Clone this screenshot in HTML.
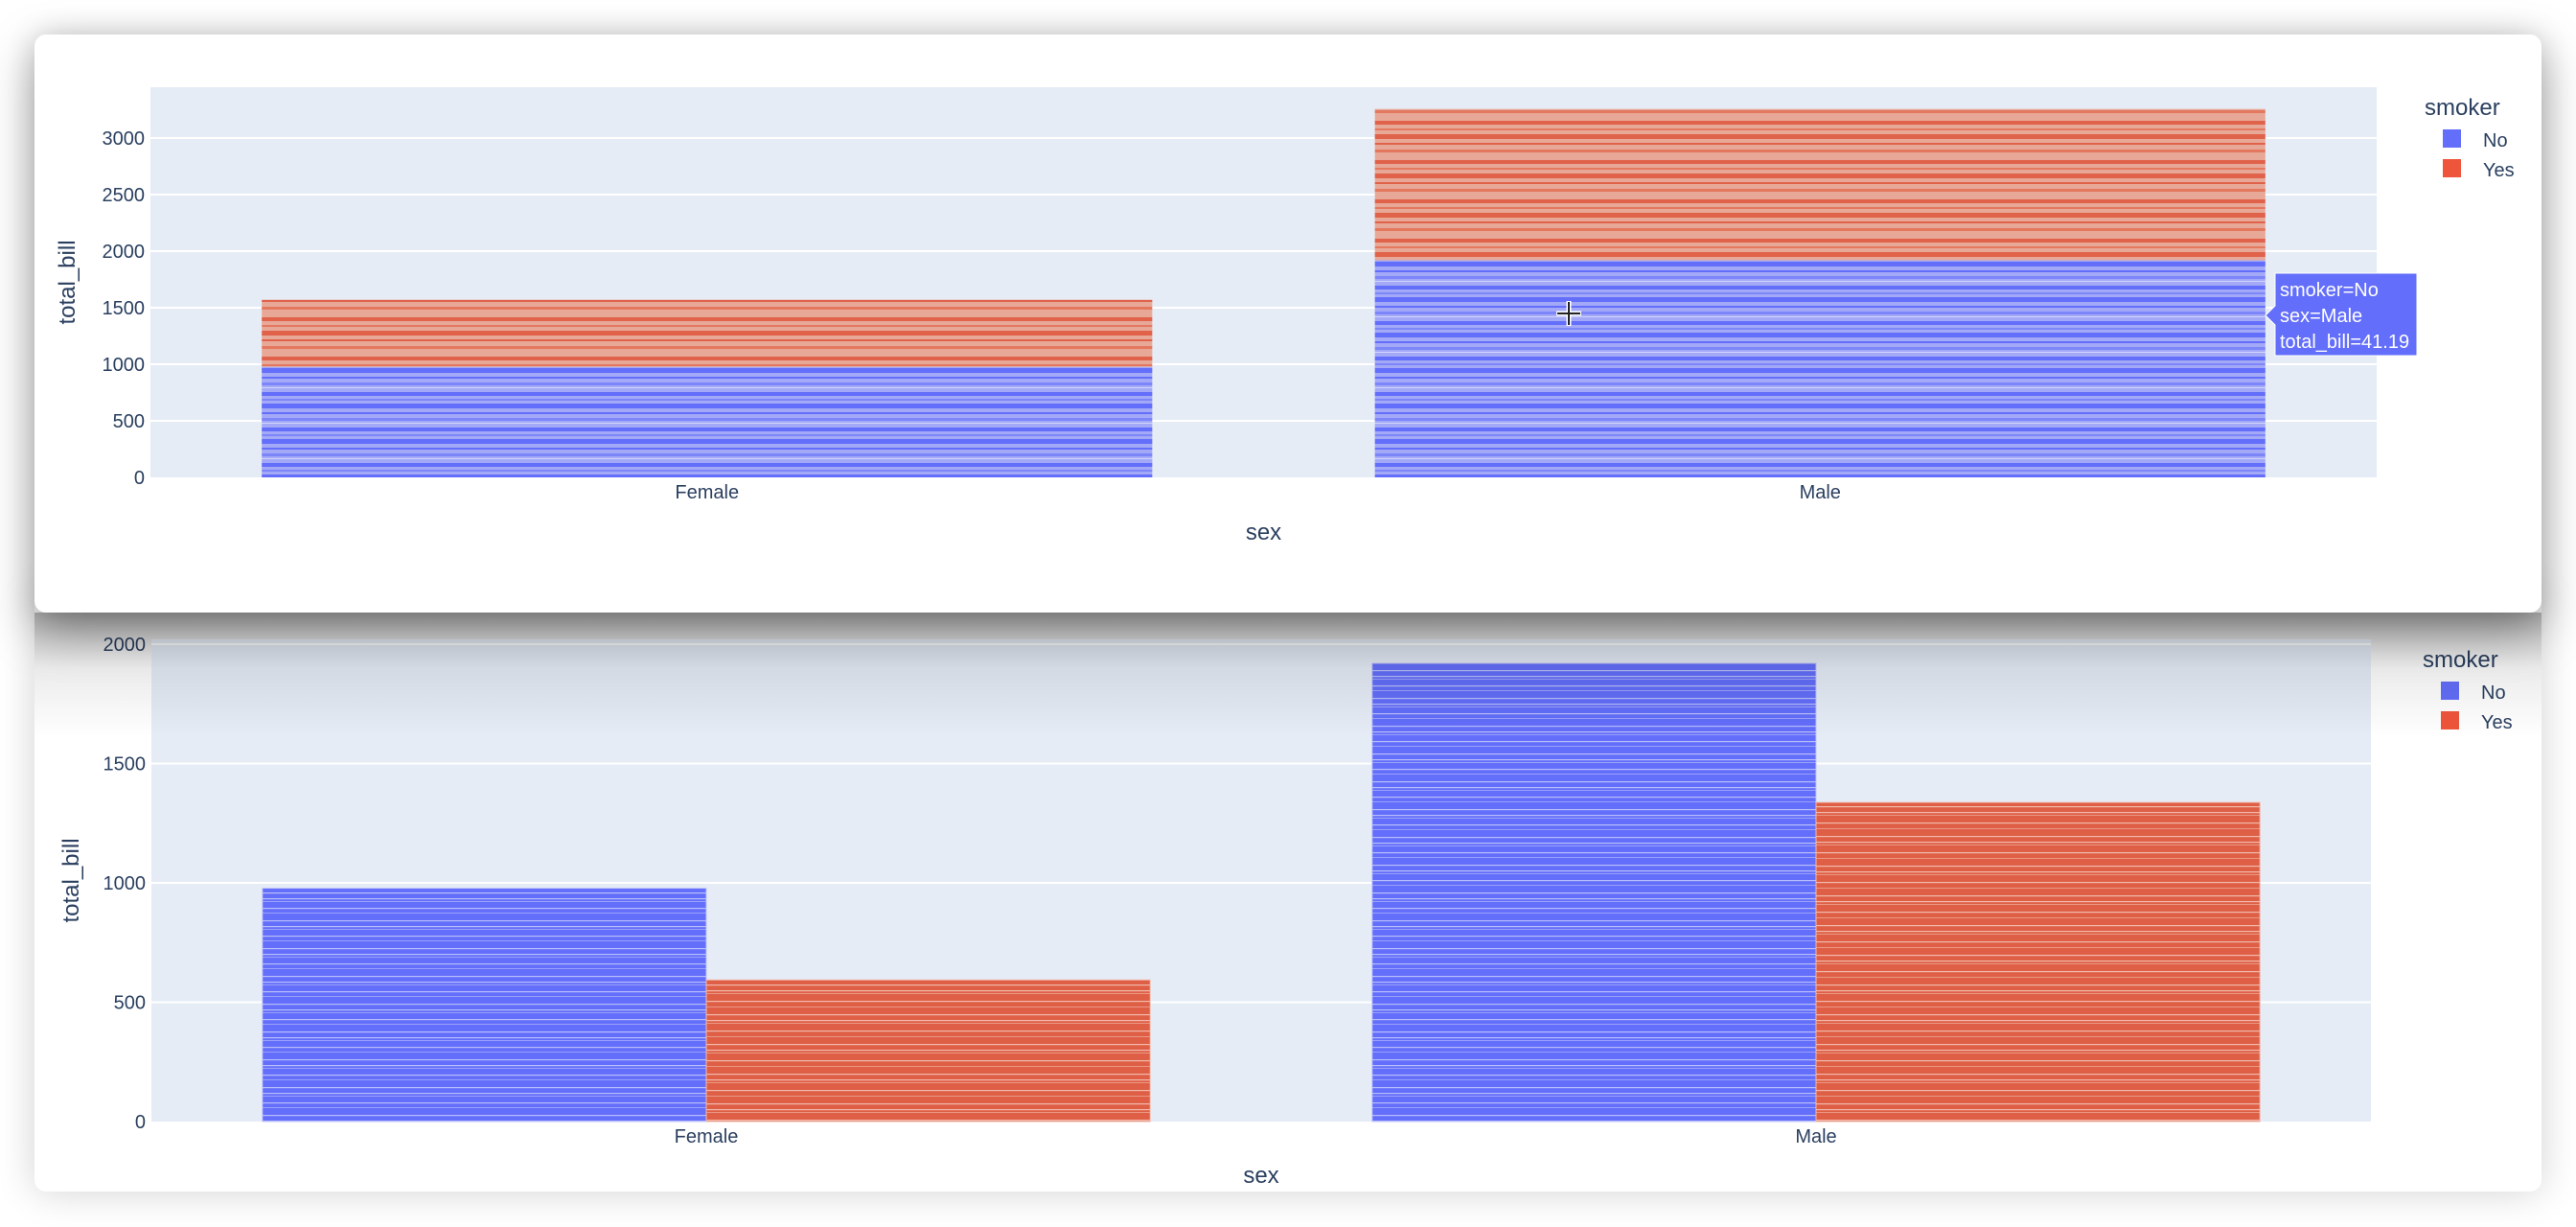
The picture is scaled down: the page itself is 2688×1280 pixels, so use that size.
<!DOCTYPE html>
<html><head><meta charset="utf-8">
<style>
html,body{margin:0;padding:0;width:2688px;height:1280px;overflow:hidden;background:#fff;font-family:"Liberation Sans",sans-serif;}
.card{position:absolute;left:36px;width:2616px;background:#fff;border-radius:12px;}
#top-card{top:36px;height:603px;z-index:2;box-shadow:0 18px 50px rgba(0,0,0,0.35),0 0 30px rgba(0,0,0,0.15);}
#bottom-card{top:620px;height:623px;z-index:1;box-shadow:0 0 40px rgba(0,0,0,0.18);}
svg{position:absolute;left:0;top:0;}
#shade{position:absolute;left:36px;top:639px;width:2616px;height:130px;z-index:3;pointer-events:none;background:linear-gradient(rgba(0,0,0,0.28),rgba(0,0,0,0.08) 45%,rgba(0,0,0,0));}
</style></head><body>
<div class="card" id="top-card"></div>
<div class="card" id="bottom-card"></div>
<div id="shade"></div>
<svg id="chart" width="2688" height="1280" style="z-index:2">
<defs>
<pattern id="stripeBlueLight" width="400" height="37" patternUnits="userSpaceOnUse">
<rect width="400" height="37" fill="#a3a9f7"/>
<rect y="2" width="400" height="4" fill="#636efa"/><rect y="9" width="400" height="2" fill="#7d86f9"/>
<rect y="14" width="400" height="5" fill="#636efa"/><rect y="23" width="400" height="2" fill="#636efa"/>
<rect y="29" width="400" height="3" fill="#7d86f9"/><rect y="34" width="400" height="1" fill="#ffffff" opacity=".5"/>
</pattern>
<pattern id="stripeRedLight" width="400" height="41" patternUnits="userSpaceOnUse">
<rect width="400" height="41" fill="#e8a898"/>
<rect y="3" width="400" height="4" fill="#e0624a"/><rect y="11" width="400" height="2" fill="#e3785f"/>
<rect y="17" width="400" height="5" fill="#e0624a"/><rect y="26" width="400" height="2" fill="#e0624a"/>
<rect y="33" width="400" height="3" fill="#e3785f"/>
</pattern>
<pattern id="stripeBlue" width="400" height="29" patternUnits="userSpaceOnUse">
<rect width="400" height="29" fill="#636efa"/>
<rect y="3" width="400" height="1.2" fill="#b8bdfb"/><rect y="9" width="400" height="1.2" fill="#b8bdfb"/>
<rect y="12" width="400" height="1" fill="#9aa1fa"/><rect y="19" width="400" height="1.2" fill="#b8bdfb"/>
<rect y="24" width="400" height="1" fill="#9aa1fa"/>
</pattern>
<pattern id="stripeRed" width="400" height="31" patternUnits="userSpaceOnUse">
<rect width="400" height="31" fill="#de5f46"/>
<rect y="4" width="400" height="1.2" fill="#f2b9ab"/><rect y="10" width="400" height="1.2" fill="#f2b9ab"/>
<rect y="13" width="400" height="1" fill="#eb9884"/><rect y="21" width="400" height="1.2" fill="#f2b9ab"/>
<rect y="27" width="400" height="1" fill="#eb9884"/>
</pattern>
</defs>
</svg>
<script>
// ---- data ----
const categories = ["Female", "Male"];
const smokers = ["No", "Yes"];
const billNo = [977.68, 1919.75];
const billYes = [593.27, 1337.07];
const topTicks = [0, 500, 1000, 1500, 2000, 2500, 3000];
const bottomTicks = [0, 500, 1000, 1500, 2000];

const NS = "http://www.w3.org/2000/svg";
const svg = document.getElementById("chart");
function mk(tag, attrs, parent, text) {
  const e = document.createElementNS(NS, tag);
  for (const k in attrs) e.setAttribute(k, attrs[k]);
  if (text !== undefined) e.textContent = text;
  (parent || svg).appendChild(e);
  return e;
}
const txtColor = "#2a3f5f";

function drawChart(cfg) {
  const g = mk("g", {});
  
  
  const L = cfg.left, R = cfg.right, T = cfg.top, B = cfg.bottom;
  const y = v => B - (v / cfg.ymax) * (B - T);
  const band = (R - L) / categories.length;
  const x = i => L + band * i + band / 2;
  const bg = mk("rect", {x: L, y: T, width: R - L, height: B - T, fill: "#e5ecf6"}, g);
  
  
  cfg.ticks.forEach(t => {
    if (t > 0) {
      const gl = mk("line", {x1: L, x2: R, y1: y(t), y2: y(t), stroke: "#fff", "stroke-width": 2}, g);
      
      
    }
    const tl = mk("text", {x: L - 6, y: y(t) + 7, "text-anchor": "end", "font-size": 20, fill: txtColor}, g, t);
    
    
  });
  const bw = band * 0.8;
  categories.forEach((c, i) => {
    const cx = x(i);
    if (cfg.mode === "stack") {
      const b1 = mk("rect", {x: cx - bw / 2, y: y(billNo[i]), width: bw, height: y(0) - y(billNo[i]), fill: "url(#stripeBlueLight)"}, g);
      
      
      const tot = billNo[i] + billYes[i];
      const b2 = mk("rect", {x: cx - bw / 2, y: y(tot), width: bw, height: y(billNo[i]) - y(tot), fill: "url(#stripeRedLight)"}, g);
      
      
    } else {
      const b1 = mk("rect", {x: cx - bw / 2, y: y(billNo[i]), width: bw / 2, height: y(0) - y(billNo[i]), fill: "url(#stripeBlue)", stroke: "#c2c6fb", "stroke-width": 1}, g);
      
      
      const b2 = mk("rect", {x: cx, y: y(billYes[i]), width: bw / 2, height: y(0) - y(billYes[i]), fill: "url(#stripeRed)", stroke: "#f2b9ab", "stroke-width": 1}, g);
      
      
    }
    const cl = mk("text", {x: cx, y: B + 22, "text-anchor": "middle", "font-size": 20, fill: txtColor}, g, c);
    
    
  });
  const xt = mk("text", {x: (L + R) / 2, y: cfg.xTitleY, "text-anchor": "middle", "font-size": 24, fill: txtColor}, g, "sex");
  
  
  const ty = (T + B) / 2;
  const yt = mk("text", {x: cfg.yTitleX, y: ty, "text-anchor": "middle", "font-size": 24, fill: txtColor, transform: "rotate(-90 " + cfg.yTitleX + " " + ty + ")"}, g, "total_bill");
  
  
  const lg = mk("g", {}, g);
  
  
  const lt = mk("text", {x: cfg.legX, y: cfg.legY, "font-size": 24, fill: txtColor}, lg, "smoker");
  
  
  const cols = ["#636efa", "#ef553b"];
  smokers.forEach((s, k) => {
    const ey = cfg.legY + 31 + k * 31;
    const e = mk("g", {}, lg);
    
    
    mk("rect", {x: cfg.legX + 19, y: ey - 16, width: 19, height: 19, fill: cols[k]}, e);
    mk("text", {x: cfg.legX + 61, y: ey + 2, "font-size": 20, fill: txtColor}, e, s);
  });
}

drawChart({name: "stacked-chart", mode: "stack", left: 157, right: 2480, top: 91, bottom: 498, ymax: 3449, ticks: topTicks, xTitleY: 563, yTitleX: 78, legX: 2530, legY: 120});
drawChart({name: "grouped-chart", mode: "group", left: 158, right: 2474, top: 667, bottom: 1170, ymax: 2020, ticks: bottomTicks, xTitleY: 1234, yTitleX: 82, legX: 2528, legY: 696});

const tip = mk("g", {});


mk("path", {d: "M2364 329 L2374 319 L2374 285 L2522 285 L2522 371 L2374 371 L2374 339 Z", fill: "#636efa", stroke: "#fff", "stroke-width": 1}, tip);
["smoker=No", "sex=Male", "total_bill=41.19"].forEach((t, i) => mk("text", {x: 2379, y: 309 + i * 27, "font-size": 20, fill: "#fff"}, tip, t));
const ch = mk("g", {});


mk("path", {d: "M1637 314 V340 M1624 327 H1650", stroke: "#fff", "stroke-width": 5}, ch);
mk("path", {d: "M1637 315 V339 M1625 327 H1649", stroke: "#222", "stroke-width": 2}, ch);
</script>
</body></html>
